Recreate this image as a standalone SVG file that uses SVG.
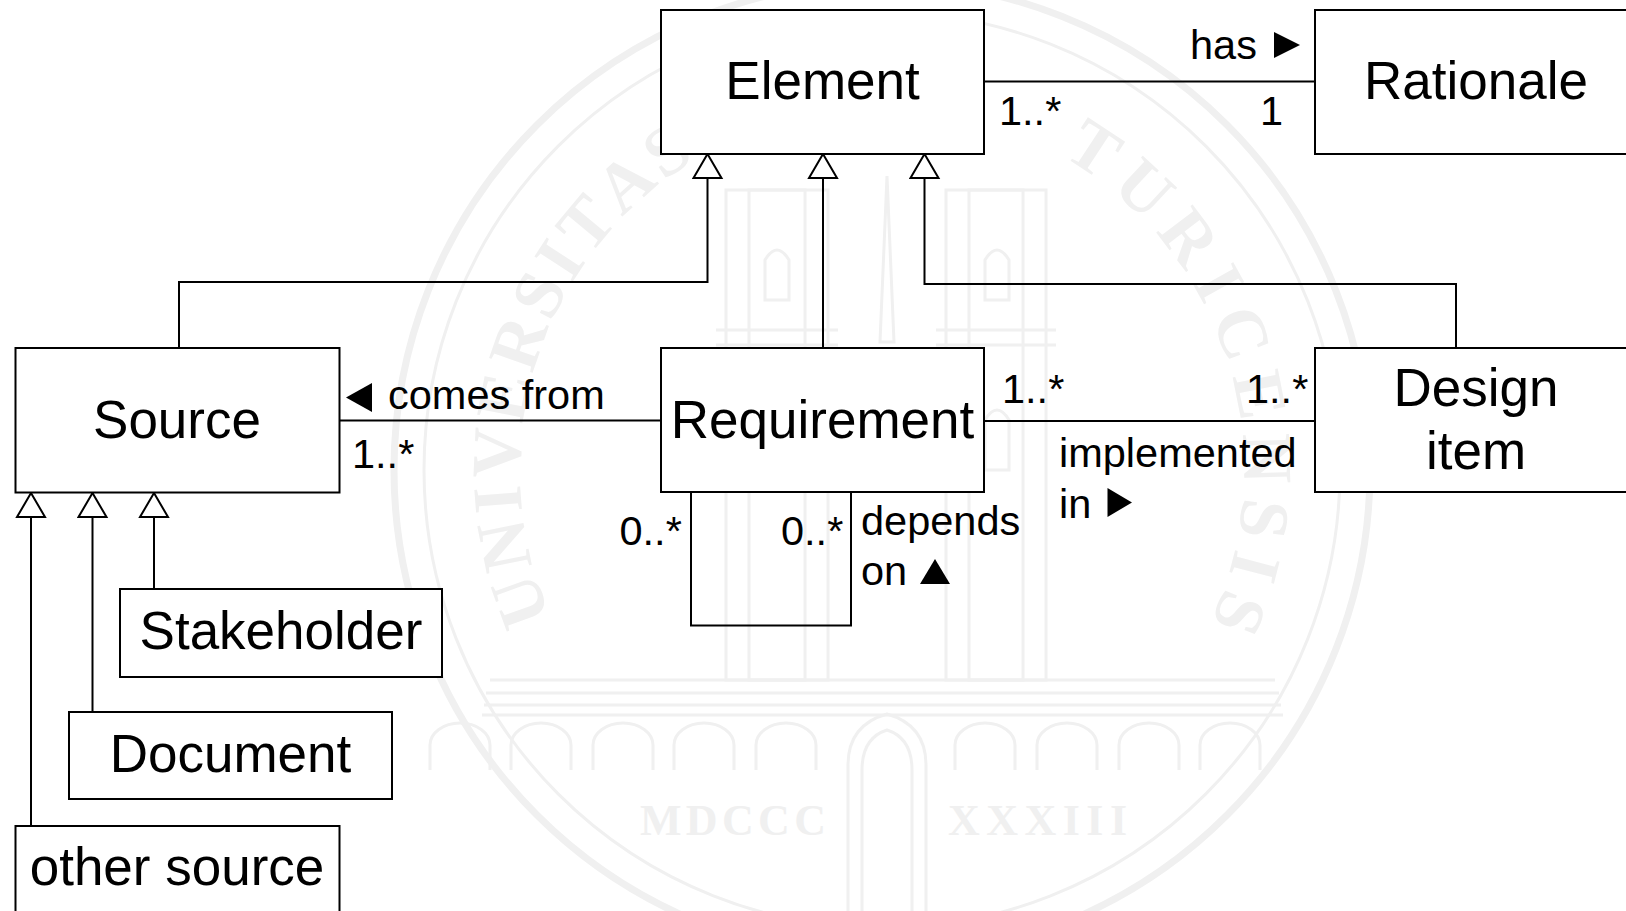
<svg xmlns="http://www.w3.org/2000/svg" width="1626" height="911" viewBox="0 0 1626 911">
  <defs>
    <marker id="gen" markerUnits="userSpaceOnUse" viewBox="-2 -2 30 32" markerWidth="30" markerHeight="32" refX="24" refY="14" orient="auto">
      <path d="M0,0 L24,14 L0,28 Z" fill="#ffffff" stroke="#000000" stroke-width="2"/>
    </marker>
  </defs>
  <style>
    .box { fill: #ffffff; stroke: #000000; stroke-width: 2; }
    .name { font-family: "Liberation Sans", Arial, sans-serif; font-size: 53px; fill: #000000; text-anchor: middle; }
    .lbl { font-family: "Liberation Sans", Arial, sans-serif; font-size: 41.5px; fill: #000000; }
    .line { fill: none; stroke: #000000; stroke-width: 2; }
    .gen { fill: none; stroke: #000000; stroke-width: 2; marker-end: url(#gen); }
    .tri { fill: #000000; }
    .wm { fill: none; stroke: #f0f0f0; }
    .wmt { font-family: "Liberation Serif", "Times New Roman", serif; font-weight: bold; fill: #f0f0f0; }
    .wml { font-family: "Liberation Serif", "Times New Roman", serif; font-weight: bold; fill: #f0f0f0; font-size: 70px; text-anchor: middle; }
  </style>
  <rect width="1626" height="911" fill="#ffffff"/>

  <g id="watermark">
    <circle class="wm" cx="882" cy="470" r="488" stroke-width="7"/>
    <circle class="wm" cx="882" cy="470" r="458" stroke-width="3"/>
    <g id="wm-universitas">
      <text class="wml" x="882" y="108" transform="rotate(-110 882 470)">U</text>
      <text class="wml" x="882" y="108" transform="rotate(-101.34 882 470)">N</text>
      <text class="wml" x="882" y="108" transform="rotate(-94.4 882 470)">I</text>
      <text class="wml" x="882" y="108" transform="rotate(-87.47 882 470)">V</text>
      <text class="wml" x="882" y="108" transform="rotate(-79.09 882 470)">E</text>
      <text class="wml" x="882" y="108" transform="rotate(-70.71 882 470)">R</text>
      <text class="wml" x="882" y="108" transform="rotate(-62.91 882 470)">S</text>
      <text class="wml" x="882" y="108" transform="rotate(-56.84 882 470)">I</text>
      <text class="wml" x="882" y="108" transform="rotate(-50.19 882 470)">T</text>
      <text class="wml" x="882" y="108" transform="rotate(-41.81 882 470)">A</text>
      <text class="wml" x="882" y="108" transform="rotate(-34.01 882 470)">S</text>
    </g>
    <g id="wm-turicensis">
      <text class="wml" x="882" y="108" transform="rotate(33.4 882 470)">T</text>
      <text class="wml" x="882" y="108" transform="rotate(42.98 882 470)">U</text>
      <text class="wml" x="882" y="108" transform="rotate(52.85 882 470)">R</text>
      <text class="wml" x="882" y="108" transform="rotate(60.99 882 470)">I</text>
      <text class="wml" x="882" y="108" transform="rotate(69.13 882 470)">C</text>
      <text class="wml" x="882" y="108" transform="rotate(78.72 882 470)">E</text>
      <text class="wml" x="882" y="108" transform="rotate(88.3 882 470)">N</text>
      <text class="wml" x="882" y="108" transform="rotate(97.3 882 470)">S</text>
      <text class="wml" x="882" y="108" transform="rotate(104.58 882 470)">I</text>
      <text class="wml" x="882" y="108" transform="rotate(111.86 882 470)">S</text>
    </g>
    <g stroke-width="3" class="wm">
      <rect x="726" y="190" width="102" height="490"/>
      <rect x="749" y="190" width="56" height="490"/>
      <rect x="946" y="190" width="100" height="490"/>
      <rect x="969" y="190" width="54" height="490"/>
      <path d="M716,330 H838 M716,345 H838 M936,330 H1056 M936,345 H1056"/>
      <path d="M765,300 V260 Q777,240 789,260 V300 Z M985,300 V260 Q997,240 1009,260 V300 Z"/>
      <path d="M765,470 V420 Q777,400 789,420 V470 Z M985,470 V420 Q997,400 1009,420 V470 Z"/>
      <path d="M880,342 L887,176 L894,342 Z"/>
      <path d="M490,680 H1275 M486,693 H1279 M484,705 H1281 M482,715 H1283"/>
      <path d="M430,770 V745 A30,22 0 0 1 490,745 V770 M511,770 V745 A30,22 0 0 1 571,745 V770 M593,770 V745 A30,22 0 0 1 653,745 V770 M674,770 V745 A30,22 0 0 1 734,745 V770 M756,770 V745 A30,22 0 0 1 816,745 V770 M955,770 V745 A30,22 0 0 1 1015,745 V770 M1037,770 V745 A30,22 0 0 1 1097,745 V770 M1119,770 V745 A30,22 0 0 1 1179,745 V770 M1200,770 V745 A30,22 0 0 1 1260,745 V770"/>
      <path d="M848,911 V765 Q848,725 887,714 Q926,725 926,765 V911"/>
      <path d="M862,911 V770 Q862,738 887,730 Q912,738 912,770 V911"/>
    </g>
    <text class="wmt" font-size="44" x="640" y="835" textLength="186">MDCCC</text>
    <text class="wmt" font-size="44" x="948" y="835" textLength="179">XXXIII</text>
  </g>

  <g id="connectors">
    <path class="gen" d="M179,348 V282 H707.5 V154"/>
    <path class="gen" d="M823,348 V154"/>
    <path class="gen" d="M1456,348 V284 H924.5 V154"/>
    <path class="gen" d="M154,589 V493"/>
    <path class="gen" d="M92.5,712 V493"/>
    <path class="gen" d="M31,826 V493"/>

    <path class="line" d="M984,81.5 H1315"/>
    <text class="lbl" x="1190" y="59">has</text>
    <polygon class="tri" points="1274,32 1300,45 1274,58"/>
    <text class="lbl" x="999" y="125">1..*</text>
    <text class="lbl" x="1283" y="125" text-anchor="end">1</text>

    <path class="line" d="M339.5,420.5 H663"/>
    <polygon class="tri" points="346,397.5 372,383 372,412"/>
    <text class="lbl" x="388" y="409">comes from</text>
    <text class="lbl" x="352" y="468">1..*</text>

    <path class="line" d="M984,421 H1318"/>
    <text class="lbl" x="1002" y="403">1..*</text>
    <text class="lbl" x="1246" y="403">1..*</text>
    <text class="lbl" x="1059" y="467">implemented</text>
    <text class="lbl" x="1059" y="518">in</text>
    <polygon class="tri" points="1107.5,488 1132,502.5 1107.5,517"/>

    <path class="line" d="M691,492 V625.5 H851 V492"/>
    <text class="lbl" x="619.5" y="545">0..*</text>
    <text class="lbl" x="781" y="545">0..*</text>
    <text class="lbl" x="861" y="535">depends</text>
    <text class="lbl" x="861" y="585">on</text>
    <polygon class="tri" points="920,584 935,559 950,584"/>
  </g>

  <g id="node-element">
    <rect class="box" x="661" y="10" width="323" height="144"/>
    <text class="name" x="822.5" y="99">Element</text>
  </g>
  <g id="node-rationale">
    <rect class="box" x="1315" y="10" width="323" height="144"/>
    <text class="name" x="1476" y="99">Rationale</text>
  </g>
  <g id="node-source">
    <rect class="box" x="15.5" y="348" width="324" height="144.5"/>
    <text class="name" x="177" y="438">Source</text>
  </g>
  <g id="node-requirement">
    <rect class="box" x="661" y="348" width="323" height="144"/>
    <text class="name" x="822.5" y="438">Requirement</text>
  </g>
  <g id="node-design-item">
    <rect class="box" x="1315" y="348" width="323" height="144"/>
    <text class="name" x="1476" y="406">Design</text>
    <text class="name" x="1476" y="469">item</text>
  </g>
  <g id="node-stakeholder">
    <rect class="box" x="120" y="589" width="322" height="88"/>
    <text class="name" x="281" y="649">Stakeholder</text>
  </g>
  <g id="node-document">
    <rect class="box" x="69" y="712" width="323" height="87"/>
    <text class="name" x="230.5" y="772">Document</text>
  </g>
  <g id="node-other-source">
    <rect class="box" x="15.5" y="826" width="324" height="88"/>
    <text class="name" x="177" y="885">other source</text>
  </g>
</svg>
